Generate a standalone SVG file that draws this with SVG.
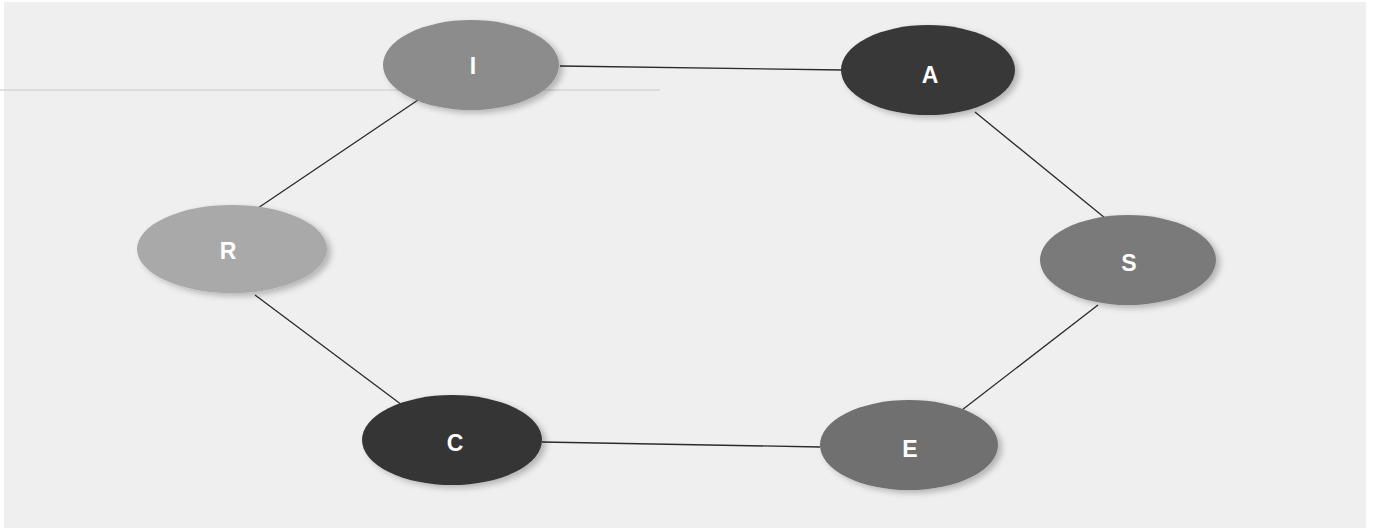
<svg xmlns="http://www.w3.org/2000/svg" width="1373" height="530" viewBox="0 0 1373 530">
<style>
.lbl{font-family:"Liberation Sans",Arial,sans-serif;font-weight:bold;font-size:23px;fill:#ffffff;text-anchor:middle;dominant-baseline:central}
.edge{stroke:#2a2a2a;stroke-width:1.3;fill:none}
</style>
<defs>
<filter id="sh" x="-20%" y="-20%" width="150%" height="150%">
<feGaussianBlur in="SourceAlpha" stdDeviation="3"/>
<feOffset dx="4" dy="3"/>
<feComponentTransfer><feFuncA type="linear" slope="0.25"/></feComponentTransfer>
<feMerge><feMergeNode/><feMergeNode in="SourceGraphic"/></feMerge>
</filter>
</defs>
<rect width="1373" height="530" fill="#ffffff"/>
<rect x="4" y="2" width="1362" height="526" fill="#efefef"/>
<line x1="0" y1="90" x2="660" y2="90" stroke="#d6d6d6" stroke-width="1.5"/>
<g id="connectors">
<line class="edge" x1="560" y1="66" x2="842" y2="70"/>
<line class="edge" x1="975" y1="112" x2="1105" y2="218"/>
<line class="edge" x1="1098" y1="305" x2="962" y2="410"/>
<line class="edge" x1="820" y1="447" x2="542" y2="442"/>
<line class="edge" x1="402" y1="405" x2="255" y2="295"/>
<line class="edge" x1="258" y1="208" x2="418" y2="100"/>
</g>
<g id="node-I"><ellipse cx="471" cy="65" rx="88" ry="45" fill="#8c8c8c" filter="url(#sh)"/><text class="lbl" x="473" y="66">I</text></g>
<g id="node-A"><ellipse cx="928" cy="70" rx="87" ry="45" fill="#393939" filter="url(#sh)"/><text class="lbl" x="930" y="75">A</text></g>
<g id="node-S"><ellipse cx="1128" cy="260" rx="88" ry="45" fill="#7a7a7a" filter="url(#sh)"/><text class="lbl" x="1129" y="263">S</text></g>
<g id="node-E"><ellipse cx="909" cy="445" rx="89" ry="45" fill="#6f6f6f" filter="url(#sh)"/><text class="lbl" x="910" y="449">E</text></g>
<g id="node-C"><ellipse cx="452" cy="440" rx="90" ry="45" fill="#363636" filter="url(#sh)"/><text class="lbl" x="455" y="443">C</text></g>
<g id="node-R"><ellipse cx="232" cy="249" rx="95" ry="44" fill="#a9a9a9" filter="url(#sh)"/><text class="lbl" x="228" y="251">R</text></g>
</svg>
